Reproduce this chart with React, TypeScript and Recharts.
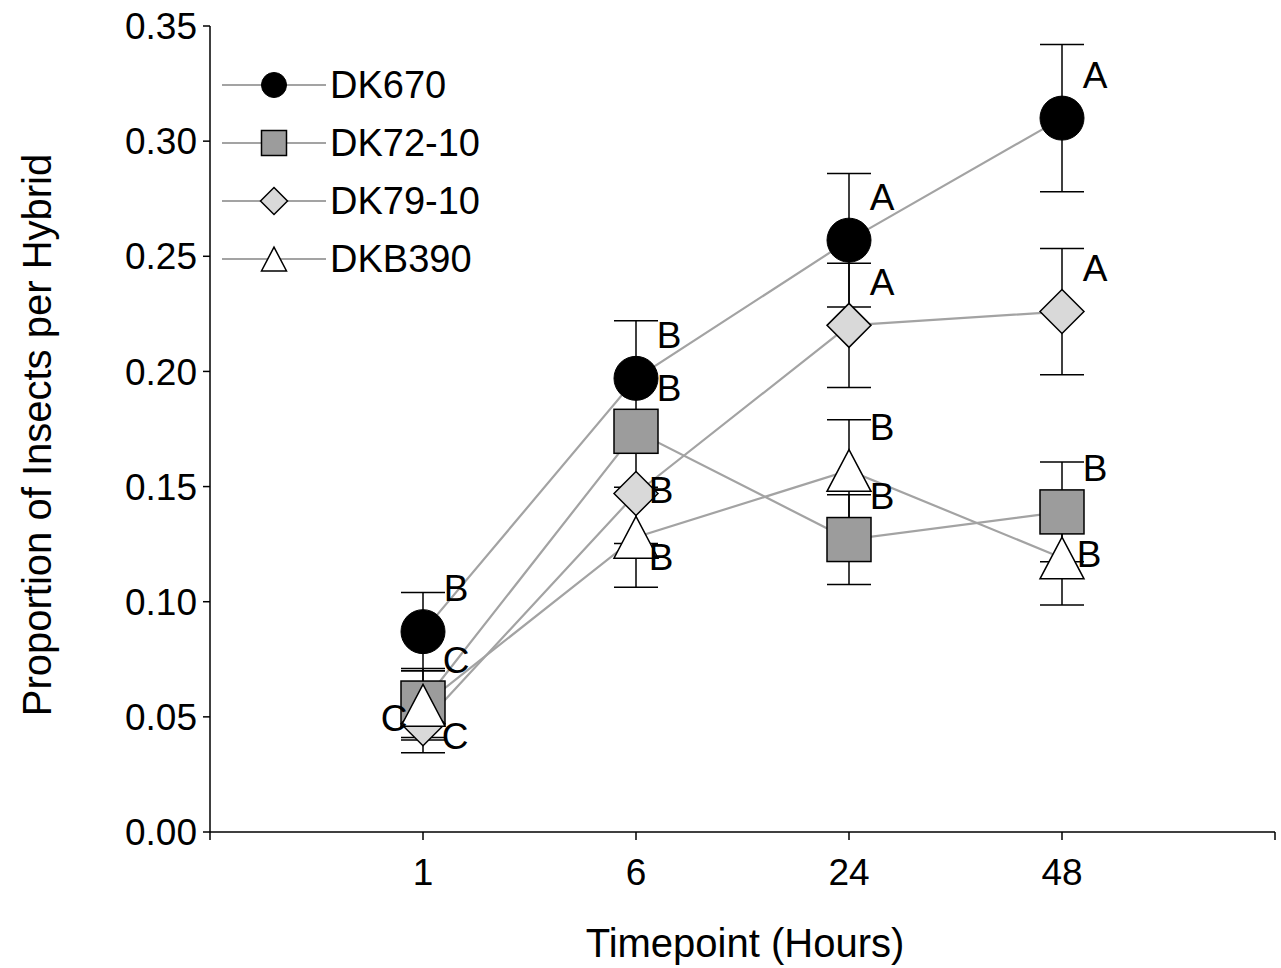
import React from 'react';
import { ComposedChart, Line, Scatter, XAxis, YAxis, ErrorBar, Label } from 'recharts';

// timepoints in hours, plotted at positions 1..4
const timepoints = ['1', '6', '24', '48'];
const yTicks = [0, 0.05, 0.1, 0.15, 0.2, 0.25, 0.3, 0.35];

const dk670 = [0.087, 0.197, 0.257, 0.31];
const dk670Err = [0.017, 0.025, 0.029, 0.032];
const dk670Letters = ['B', 'B', 'A', 'A'];

const dk7210 = [0.056, 0.174, 0.127, 0.139];
const dk7210Err = [0.015, 0.008, 0.0195, 0.0217];
const dk7210Letters = ['C', 'B', 'B', 'B'];

const dk7910 = [0.047, 0.147, 0.22, 0.226];
const dk7910Err = [0.0126, 0.0217, 0.027, 0.0274];
const dk7910Letters = ['C', 'B', 'A', 'A'];

const dkb390 = [0.055, 0.128, 0.157, 0.119];
const dkb390Err = [0.015, 0.0217, 0.022, 0.0204];
const dkb390Letters = ['C', 'B', 'B', 'B'];

const FONT = 'Arial, "Liberation Sans", sans-serif';
const LINE_GREY = '#a3a3a3';

type Kind = 'circle' | 'square' | 'diamond' | 'triangle';

const series: { name: string; values: number[]; err: number[]; letters: string[]; kind: Kind }[] = [
  { name: 'DK670', values: dk670, err: dk670Err, letters: dk670Letters, kind: 'circle' },
  { name: 'DK72-10', values: dk7210, err: dk7210Err, letters: dk7210Letters, kind: 'square' },
  { name: 'DK79-10', values: dk7910, err: dk7910Err, letters: dk7910Letters, kind: 'diamond' },
  { name: 'DKB390', values: dkb390, err: dkb390Err, letters: dkb390Letters, kind: 'triangle' },
];

const rowsFor = (s: (typeof series)[number]) =>
  s.values.map((y, i) => ({ x: i + 1, y, err: s.err[i], letter: s.letters[i], i }));

// where the significance letters sit relative to the marker (px)
const defaultNudge: [number, number] = [33, -43];
const letterNudge: Record<string, Record<number, [number, number]>> = {
  'DK79-10': { 0: [32, 13], 1: [25, -3] },
  DKB390: { 0: [-29, 13], 1: [25, 20], 3: [27, -3] },
};

function Marker({ kind, cx, cy, size }: { kind: Kind; cx: number; cy: number; size: number }) {
  const h = size / 2;
  if (kind === 'circle') return <circle cx={cx} cy={cy} r={h} fill="#000" stroke="#000" />;
  if (kind === 'square')
    return (
      <rect x={cx - h} y={cy - h} width={size} height={size} fill="#9c9c9c" stroke="#000" strokeWidth={1.5} />
    );
  if (kind === 'diamond')
    return (
      <path
        d={`M${cx},${cy - h} L${cx + h},${cy} L${cx},${cy + h} L${cx - h},${cy} Z`}
        fill="#d9d9d9"
        stroke="#000"
        strokeWidth={1.5}
      />
    );
  const tv = h * 0.95;
  return (
    <path
      d={`M${cx},${cy - tv} L${cx + h},${cy + tv} L${cx - h},${cy + tv} Z`}
      fill="#fff"
      stroke="#000"
      strokeWidth={1.5}
    />
  );
}

function LegendBox() {
  return (
    <svg width={300} height={240} style={{ position: 'absolute', left: 208, top: 56 }}>
      {series.map((s, i) => {
        const y = 29 + i * 58;
        return (
          <g key={s.name}>
            <line x1={14} x2={118} y1={y} y2={y} stroke={LINE_GREY} strokeWidth={2} />
            <Marker kind={s.kind} cx={66} cy={y} size={s.kind === 'diamond' ? 27 : 25} />
            <text x={122} y={y} dominantBaseline="central" fontSize={38} fontFamily={FONT} fill="#000">
              {s.name}
            </text>
          </g>
        );
      })}
    </svg>
  );
}

const yTitle = () => (
  <text
    x={37}
    y={435}
    transform="rotate(-90 37 435)"
    textAnchor="middle"
    dominantBaseline="central"
    fontSize={40}
    fontFamily={FONT}
    fill="#000"
  >
    Proportion of Insects per Hybrid
  </text>
);

const xTitle = () => (
  <text x={745} y={943} textAnchor="middle" dominantBaseline="central" fontSize={40} fontFamily={FONT} fill="#000">
    Timepoint (Hours)
  </text>
);

export default function App() {
  return (
    <div style={{ position: 'absolute', left: 0, top: 0, width: 1281, height: 968, background: '#fff' }}>
      <ComposedChart width={1281} height={968} margin={{ top: 26, right: 6, bottom: 0, left: 0 }}>
        <XAxis
          type="number"
          dataKey="x"
          domain={[0, 5]}
          ticks={[0, 1, 2, 3, 4, 5]}
          tickFormatter={(v: number) => timepoints[v - 1] ?? ''}
          height={136}
          tickSize={8}
          tickMargin={19}
          axisLine={{ stroke: '#000', strokeWidth: 1.5 }}
          tickLine={{ stroke: '#000', strokeWidth: 1.5 }}
          tick={{ fontSize: 37, fill: '#000', fontFamily: FONT }}
          label={<Label content={xTitle} />}
        />
        <YAxis
          type="number"
          dataKey="y"
          domain={[0, 0.35]}
          ticks={yTicks}
          allowDataOverflow
          tickFormatter={(v: number) => v.toFixed(2)}
          width={210}
          tickSize={7}
          tickMargin={6}
          axisLine={{ stroke: '#000', strokeWidth: 1.5 }}
          tickLine={{ stroke: '#000', strokeWidth: 1.5 }}
          tick={{ fontSize: 37, fill: '#000', fontFamily: FONT }}
          label={<Label content={yTitle} />}
        />
        {series.map((s) => (
          <Line
            key={`line-${s.name}`}
            data={rowsFor(s)}
            dataKey="y"
            name={s.name}
            stroke={LINE_GREY}
            strokeWidth={2.2}
            dot={false}
            activeDot={false}
            legendType="none"
            isAnimationActive={false}
          />
        ))}
        {series.map((s) => (
          <Scatter
            key={`pts-${s.name}`}
            data={rowsFor(s)}
            dataKey="y"
            name={s.name}
            isAnimationActive={false}
            shape={(p: any) => {
              const [dx, dy] = letterNudge[s.name]?.[p.payload.i] ?? defaultNudge;
              return (
                <g>
                  <Marker kind={s.kind} cx={p.cx} cy={p.cy} size={44} />
                  <text
                    x={p.cx + dx}
                    y={p.cy + dy}
                    textAnchor="middle"
                    dominantBaseline="central"
                    fontSize={37}
                    fontFamily={FONT}
                    fill="#000"
                  >
                    {p.payload.letter}
                  </text>
                </g>
              );
            }}
          >
            <ErrorBar dataKey="err" direction="y" width={22} stroke="#000" strokeWidth={1.5} />
          </Scatter>
        ))}
      </ComposedChart>
      <LegendBox />
    </div>
  );
}
